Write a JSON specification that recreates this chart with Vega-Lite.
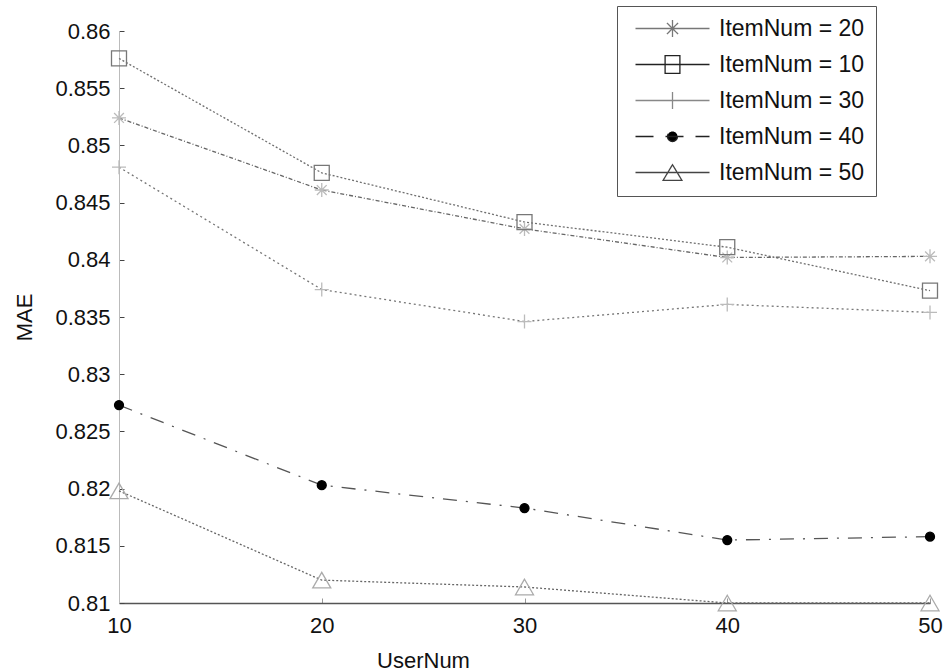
{
  "$schema": "https://vega.github.io/schema/vega-lite/v6.json",
  "width": 811,
  "height": 572,
  "autosize": {"type": "none"},
  "padding": {"left": 119, "top": 31, "right": 17, "bottom": 68},
  "background": "white",
  "config": {
    "view": {"stroke": null},
    "font": "Liberation Sans",
    "axis": {"grid": false, "labelFont": "Liberation Sans", "labelFontSize": 22, "labelColor": "#111", "titleFont": "Liberation Sans", "titleFontSize": 22, "titleFontWeight": "normal", "titleColor": "#111"}
  },
  "data": {
    "values": [
      {"user": 10, "item": 20, "series": "ItemNum = 20", "mae": 0.8524},
      {"user": 20, "item": 20, "series": "ItemNum = 20", "mae": 0.8461},
      {"user": 30, "item": 20, "series": "ItemNum = 20", "mae": 0.8427},
      {"user": 40, "item": 20, "series": "ItemNum = 20", "mae": 0.8402},
      {"user": 50, "item": 20, "series": "ItemNum = 20", "mae": 0.8403},
      {"user": 10, "item": 10, "series": "ItemNum = 10", "mae": 0.8576},
      {"user": 20, "item": 10, "series": "ItemNum = 10", "mae": 0.8476},
      {"user": 30, "item": 10, "series": "ItemNum = 10", "mae": 0.8433},
      {"user": 40, "item": 10, "series": "ItemNum = 10", "mae": 0.8411},
      {"user": 50, "item": 10, "series": "ItemNum = 10", "mae": 0.8373},
      {"user": 10, "item": 30, "series": "ItemNum = 30", "mae": 0.8481},
      {"user": 20, "item": 30, "series": "ItemNum = 30", "mae": 0.8374},
      {"user": 30, "item": 30, "series": "ItemNum = 30", "mae": 0.8346},
      {"user": 40, "item": 30, "series": "ItemNum = 30", "mae": 0.8361},
      {"user": 50, "item": 30, "series": "ItemNum = 30", "mae": 0.8354},
      {"user": 10, "item": 40, "series": "ItemNum = 40", "mae": 0.8273},
      {"user": 20, "item": 40, "series": "ItemNum = 40", "mae": 0.8203},
      {"user": 30, "item": 40, "series": "ItemNum = 40", "mae": 0.8183},
      {"user": 40, "item": 40, "series": "ItemNum = 40", "mae": 0.8155},
      {"user": 50, "item": 40, "series": "ItemNum = 40", "mae": 0.8158},
      {"user": 10, "item": 50, "series": "ItemNum = 50", "mae": 0.8198},
      {"user": 20, "item": 50, "series": "ItemNum = 50", "mae": 0.8120},
      {"user": 30, "item": 50, "series": "ItemNum = 50", "mae": 0.8114},
      {"user": 40, "item": 50, "series": "ItemNum = 50", "mae": 0.8100},
      {"user": 50, "item": 50, "series": "ItemNum = 50", "mae": 0.8100}
    ]
  },
  "encoding": {
    "x": {
      "field": "user", "type": "quantitative",
      "scale": {"domain": [10, 50], "nice": false, "zero": false},
      "axis": {"title": "UserNum", "values": [10, 20, 30, 40, 50], "labelFlush": false, "domainColor": "#555", "domainWidth": 1.5, "tickColor": "#999", "tickSize": -5, "labelPadding": 17, "titleX": 304, "titleY": 64, "titleBaseline": "alphabetic", "titleAlign": "center", "titleAnchor": null}
    },
    "y": {
      "field": "mae", "type": "quantitative",
      "scale": {"domain": [0.81, 0.86], "nice": false, "zero": false},
      "axis": {"title": "MAE", "values": [0.81, 0.815, 0.82, 0.825, 0.83, 0.835, 0.84, 0.845, 0.85, 0.855, 0.86], "format": "~g", "labelFlush": false, "domainColor": "#bbb", "tickColor": "#444", "tickSize": -5, "labelPadding": 14, "titlePadding": 18}
    }
  },
  "layer": [
    {
      "mark": {"type": "line", "strokeWidth": 1.3, "clip": false},
      "encoding": {
        "stroke": {
          "field": "item", "type": "nominal",
          "scale": {"domain": [20, 10, 30, 40, 50], "range": ["#666", "#707070", "#777", "#555", "#666"]},
          "legend": null
        },
        "strokeDash": {
          "field": "item", "type": "nominal",
          "scale": {"domain": [20, 10, 30, 40, 50], "range": [[4, 2, 1, 2], [2, 2], [2, 3], [14, 9, 2, 9], [2, 2]]},
          "legend": null
        }
      }
    },
    {
      "mark": {"type": "point", "strokeWidth": 1.3, "opacity": 1, "clip": false},
      "encoding": {
        "shape": {
          "field": "item", "type": "nominal",
          "scale": {"domain": [20, 10, 30, 40, 50], "range": ["M0,-1L0,1M-1,0L1,0M-0.7,-0.7L0.7,0.7M-0.7,0.7L0.7,-0.7", "square", "M0,-1L0,1M-1,0L1,0", "circle", "triangle-up"]},
          "legend": null
        },
        "size": {
          "condition": [
            {"test": "datum.item == 40", "value": 80},
            {"test": "datum.item == 50", "value": 324},
            {"test": "datum.item == 10", "value": 225}
          ],
          "value": 196
        },
        "stroke": {
          "field": "item", "type": "nominal",
          "scale": {"domain": [20, 10, 30, 40, 50], "range": ["#bbb", "#777", "#bbb", "#000", "#aaa"]},
          "legend": null
        },
        "fill": {
          "field": "item", "type": "nominal",
          "scale": {"domain": [20, 10, 30, 40, 50], "range": ["transparent", "transparent", "transparent", "#000", "transparent"]},
          "legend": null
        }
      }
    },
    {
      "mark": {"type": "line", "strokeWidth": 1.3, "opacity": 0, "clip": false},
      "encoding": {
        "color": {
          "field": "series", "type": "nominal",
          "scale": {"domain": ["ItemNum = 20", "ItemNum = 10", "ItemNum = 30", "ItemNum = 40", "ItemNum = 50"], "range": ["#777", "#222", "#888", "#222", "#444"]},
          "legend": {
            "title": null,
            "orient": "none",
            "legendX": 498,
            "legendY": -25,
            "padding": 11,
            "rowPadding": 12,
            "symbolSize": 256,
            "symbolStrokeWidth": 1.3,
            "labelOffset": 68,
            "labelFont": "Liberation Sans",
            "labelFontSize": 23,
            "labelColor": "#111",
            "strokeColor": "#555",
            "fillColor": "white",
            "encode": {
              "symbols": {
                "update": {
                  "shape": {"signal": "datum.value == 'ItemNum = 20' ? 'M-0.5,0L8.75,0M4.125,-1.05L4.125,1.05M3.425,-0.7L4.825,0.7M3.425,0.7L4.825,-0.7' : datum.value == 'ItemNum = 10' ? 'M-0.5,0L8.75,0M3.2,-1.1L5.05,-1.1L5.05,1.1L3.2,1.1Z' : datum.value == 'ItemNum = 30' ? 'M-0.5,0L8.75,0M4.125,-1.05L4.125,1.05' : datum.value == 'ItemNum = 40' ? 'M-0.5,0L8.75,0M4.75,0A0.625,0.625,0,1,1,3.5,0A0.625,0.625,0,1,1,4.75,0Z' : 'M-0.5,0L8.75,0M4.125,-0.98L5.3,0.98L2.95,0.98Z'"},
                  "fill": {"signal": "datum.value == 'ItemNum = 40' ? '#000' : 'transparent'"},
                  "strokeDash": {"signal": "datum.value == 'ItemNum = 40' ? [18, 12] : [1, 0]"},
                  "strokeWidth": {"value": 1.3},
                  "size": {"value": 256},
                  "opacity": {"value": 1},
                  "strokeOpacity": {"value": 1}
                }
              }
            }
          }
        }
      }
    }
  ],
  "resolve": {"scale": {"stroke": "independent"}}
}
